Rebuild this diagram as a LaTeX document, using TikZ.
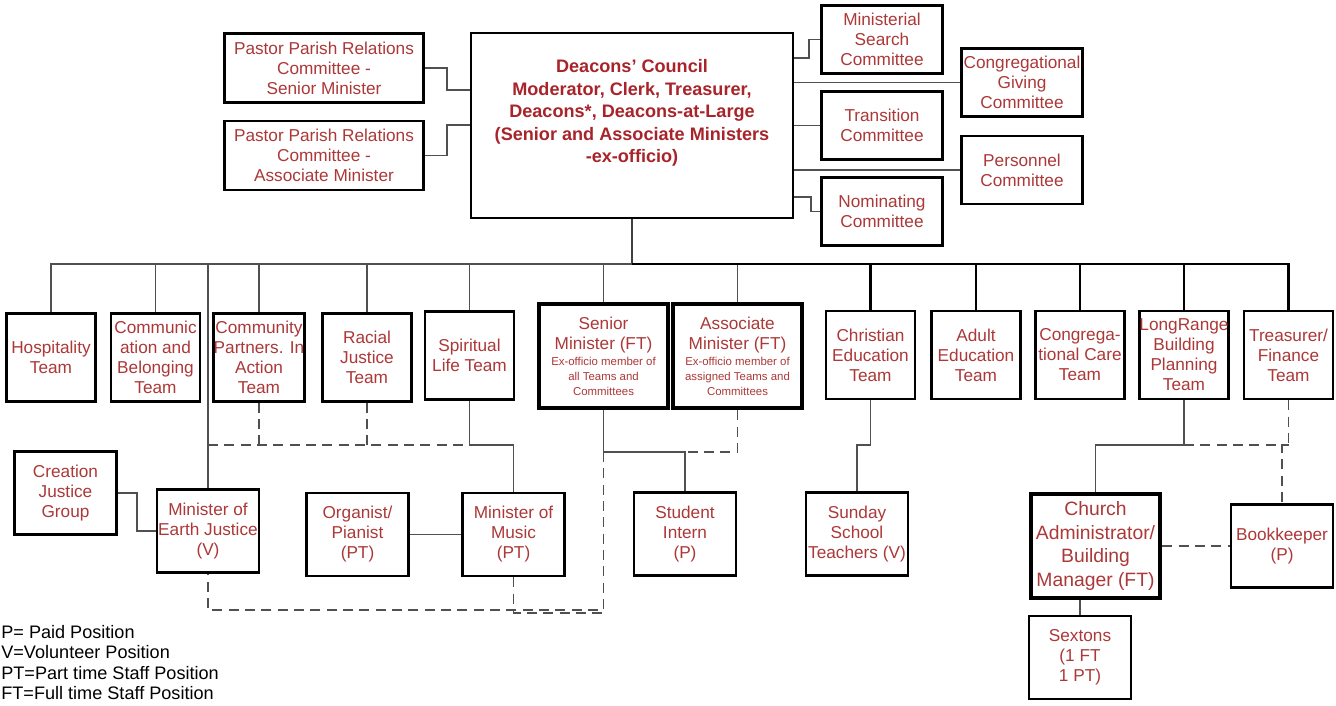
\documentclass[tikz,border=0pt]{standalone}
\usepackage{fontspec}
\setmainfont{Liberation Sans}

\definecolor{orgred}{RGB}{172,56,56}
\definecolor{deepred}{RGB}{168,36,42}
\definecolor{linkgray}{RGB}{80,80,80}

\newcommand{\orgfont}{\fontsize{9.8}{11.4}\selectfont}
\newcommand{\councilfont}{\fontsize{10.3}{12.8}\selectfont\bfseries}
\newcommand{\exofont}{\fontsize{6.5}{8.5}\selectfont}
\newcommand{\adminfont}{\fontsize{11}{13.3}\selectfont}
\newcommand{\keyfont}{\fontsize{10.3}{11.6}\selectfont}

\begin{document}
\begin{tikzpicture}[
    x=0.02cm, y=-0.02cm,
    % Caixas comuns
    cbox/.style={
        draw, line width=1.5pt, fill=white, text=orgred,
        font=\orgfont, align=center, inner sep=0pt
    },
    % Comissoes ao lado do conselho
    cmte/.style={cbox, minimum width=2.42cm, minimum height=1.36cm},
    % Equipes
    team/.style={cbox, minimum width=1.78cm, minimum height=1.76cm},
    % Cargos
    post/.style={cbox, minimum width=2.04cm, minimum height=1.66cm},
    % Cargos de destaque
    minister/.style={cbox, line width=2.6pt, minimum width=2.58cm,
        minimum height=2.08cm},
    link/.style={draw=linkgray, line width=1.1pt},
    dlink/.style={link, dash pattern=on 5.7pt off 3.6pt},
    blink/.style={draw=black, line width=1.3pt}
]
\useasboundingbox (0,0) rectangle (1336,706);

% ---- CONSELHO ----
\node[cbox, minimum width=3.98cm, minimum height=1.38cm] (ppr_sen) at (324,68)
    {Pastor Parish Relations\\Committee -\\Senior Minister};
\node[cbox, minimum width=3.98cm, minimum height=1.38cm] (ppr_asc) at (324,155.5)
    {Pastor Parish Relations\\Committee -\\Associate Minister};

\node[cbox, line width=1.3pt, minimum width=6.44cm, minimum height=3.70cm] (council) at (632,125.5) {};
\node[font=\councilfont, text=deepred, align=center] (council_txt) at (632,113)
    {Deacons’ Council\\Moderator, Clerk, Treasurer,\\Deacons*, Deacons-at-Large\\(Senior and Associate Ministers\\-ex-officio)};

\draw[link] (ppr_sen.east) -- ++(22,0) |- (council.west |- 0,90);
\draw[link] (ppr_asc.east) -- ++(22,0) |- (council.west |- 0,125);

% ---- COMISSOES (direita) ----
\node[cmte] (search)     at (882,39.5)  {Ministerial\\Search\\Committee};
\node[cmte] (transition) at (882,125.5) {Transition\\Committee};
\node[cmte] (nominating) at (882,211.5) {Nominating\\Committee};
\node[cmte] (giving)     at (1022,82.5) {Congregational\\Giving\\Committee};
\node[cmte] (personnel)  at (1022,170)  {Personnel\\Committee};

\draw[link] (council.east |- 0,58) -- ++(15,0) |- (search.west);
\draw[link] (council.east |- giving.west) -- (giving.west);
\draw[link] (council.east |- transition.west) -- (transition.west);
\draw[link] (council.east |- personnel.west) -- (personnel.west);
\draw[link] (council.east |- 0,197) -- ++(17,0) |- (nominating.west);

% ---- EQUIPES ----
\node[team] (hospitality)   at (51,357.5)  {Hospitality\\Team};
\node[team] (communication) at (155.5,357.5) {Communic\\ation and\\Belonging\\Team};
\node[team] (community)     at (259,357.5) {Community\\Partners. In\\Action\\Team};
\node[team] (racial)        at (367,357.5) {Racial\\Justice\\Team};
\node[team] (spiritual)     at (469.5,355.5) {Spiritual\\Life Team};

\node[minister] (senior) at (603.5,356)
    {Senior\\Minister (FT)\\[-2.3pt]\exofont Ex-officio member of\\[-2.9pt]\exofont all Teams and\\[-2.9pt]\exofont Committees};
\node[minister] (associate) at (737.5,356)
    {Associate\\Minister (FT)\\[-2.3pt]\exofont Ex-officio member of\\[-2.9pt]\exofont assigned Teams and\\[-2.9pt]\exofont Committees};

\node[team] (christian) at (870.5,355) {Christian\\Education\\Team};
\node[team] (adult)     at (976,355)   {Adult\\Education\\Team};
\node[team] (care)      at (1080,355)  {Congrega-\\tional Care\\Team};
\node[team] (longrange) at (1184,355)  {LongRange\\Building\\Planning\\Team};
\node[team] (treasurer) at (1288.5,355) {Treasurer/\\Finance\\Team};

% ---- CARGOS ----
\node[post] (creation)  at (65.5,493)   {Creation\\Justice\\Group};
\node[post] (earth)     at (208,531)    {Minister of\\Earth Justice\\(V)};
\node[post] (organist)  at (357.5,534.5) {Organist/\\Pianist\\(PT)};
\node[post] (music)     at (513.5,534.5) {Minister of\\Music\\(PT)};
\node[post] (intern)    at (685,534)    {Student\\Intern\\(P)};
\node[post] (sunday)    at (857,534)    {Sunday\\School\\Teachers (V)};
\node[minister, font=\adminfont] (admin) at (1095.5,546)
    {Church\\Administrator/\\Building\\Manager (FT)};
\node[post] (bookkeeper) at (1282,546)  {Bookkeeper\\(P)};
\node[post] (sextons)   at (1080,657.5) {Sextons\\(1 FT\\1 PT)};

% ---- BARRAMENTO ----
\coordinate (bus) at (632,264);
\draw[link, draw=black!75, line width=1.4pt] (council.south) -- (bus);
\draw[link] (hospitality.north)   |- (bus);
\draw[link] (communication.north) |- (bus);
\draw[link] (community.north)     |- (bus);
\draw[link] (racial.north)        |- (bus);
\draw[link] (spiritual.north)     |- (bus);
\draw[link] (earth.north)         |- (bus);
\draw[link] (senior.north)        |- (bus);
\draw[link] (associate.north)     |- (bus);
\draw[blink] (christian.north) |- (bus);
\draw[blink] (adult.north)     |- (bus);
\draw[blink] (care.north)      |- (bus);
\draw[blink] (longrange.north) |- (bus);
\draw[blink] (treasurer.north) |- (bus);

% ---- LIGACOES ESQUERDA ----
\draw[link] (creation.east) -- ++(19,0) |- (earth.west);
\draw[link] (organist.east) -- (music.west);

\coordinate (sp_bif) at (469.5,445);
\draw[link]  (spiritual.south) -- (sp_bif) -| (music.north);
\draw[dlink] (earth.north |- sp_bif) -- (sp_bif);
\draw[dlink] (community.south) -- (community.south |- sp_bif);
\draw[dlink] (racial.south) -- (racial.south |- sp_bif);

% ---- LIGACOES MINISTROS ----
\coordinate (sen_bif) at (603.5,452);
\draw[link]  (senior.south) -- (sen_bif) -| (intern.north);
\draw[dlink] (associate.south) |- (intern.north |- sen_bif);

\coordinate (sen_low) at (603.5,610);
\coordinate (mus_low) at (513.5,613);
\draw[dlink] (sen_bif) -- (sen_low) -- (earth.south |- sen_low) -- (earth.south);
\draw[dlink] (music.south) -- (mus_low) -- (mus_low -| sen_low);

% ---- LIGACOES DIREITA ----
\draw[link] (christian.south) -- ++(0,45) -| (sunday.north);

\coordinate (lr_bif) at (1184,445);
\draw[link]  (longrange.south) -- (lr_bif) -| (admin.north);
\draw[dlink] (lr_bif) -- (treasurer.south |- lr_bif);
\draw[dlink] (treasurer.south) -- (treasurer.south |- lr_bif) -| (bookkeeper.north);
\draw[dlink] (admin.east) -- (bookkeeper.west);
\draw[link]  (sextons.north) -- (sextons.north |- admin.south);

% ---- LEGENDA ----
\node[font=\keyfont, align=left, anchor=north west, inner sep=0pt] (key) at (1,625)
    {P= Paid Position\\V=Volunteer Position\\PT=Part time Staff Position\\FT=Full time Staff Position};

\end{tikzpicture}
\end{document}
